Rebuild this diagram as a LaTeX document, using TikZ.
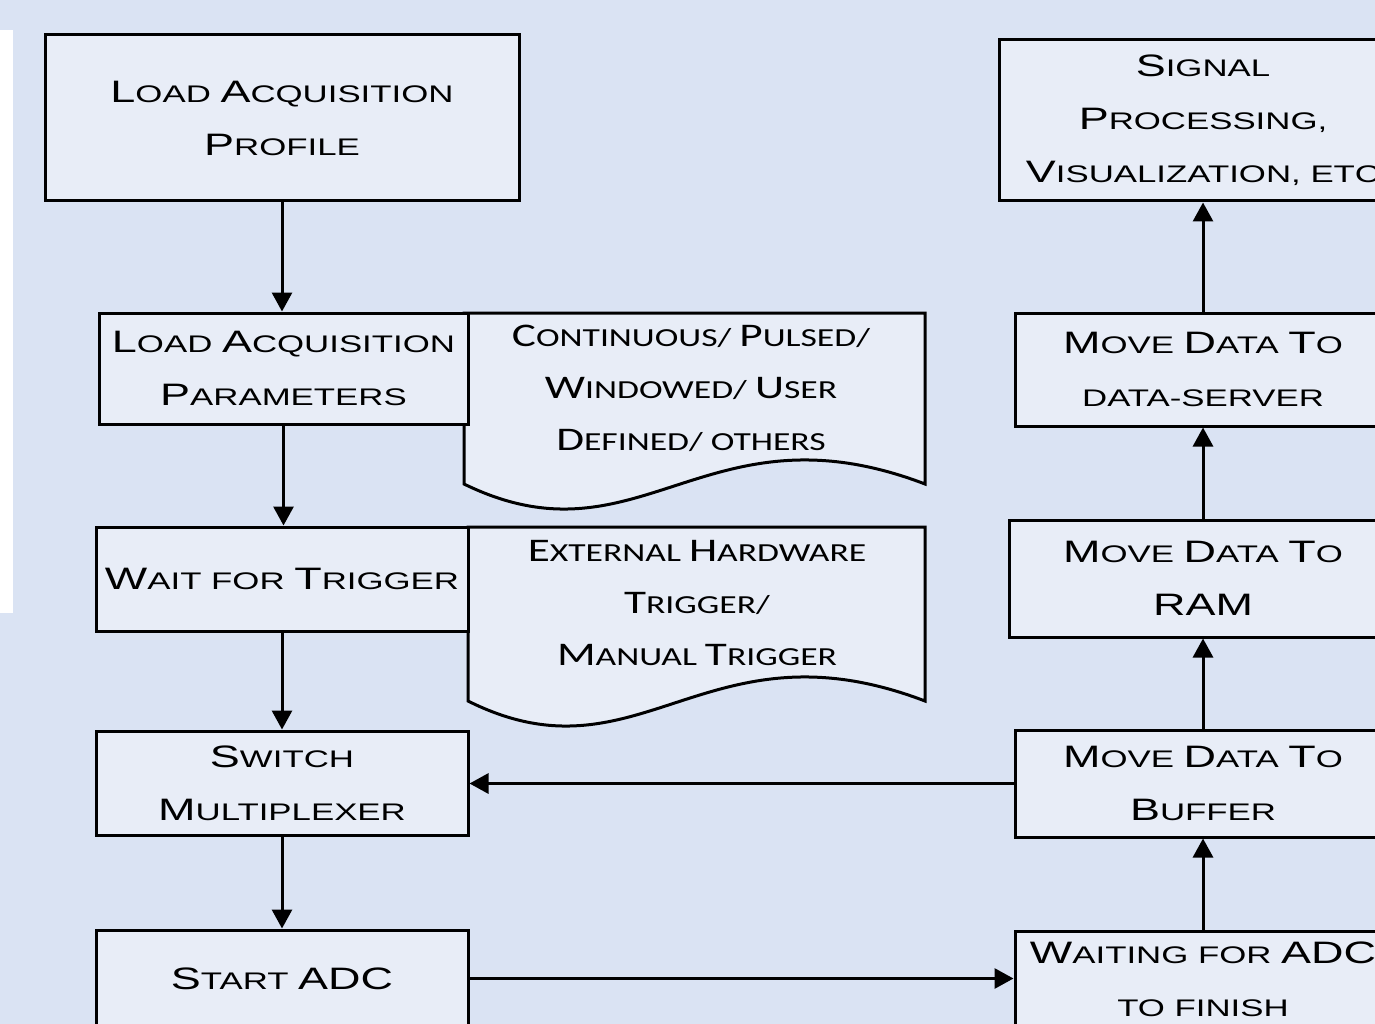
\documentclass[tikz,border=0pt]{standalone}
\usepackage{fontspec}
\setmainfont[FakeStretch=1.45]{Liberation Sans}
\newfontfamily\calfont[FakeStretch=1.37]{Carlito}
\usetikzlibrary{arrows.meta}
\definecolor{bgblue}{HTML}{DAE3F3}
\definecolor{boxfill}{HTML}{E8EDF7}
\newcommand\K[1]{{\fontsize{31}{53}\selectfont #1}}
\newcommand\KC[1]{{\fontsize{33}{52}\selectfont #1}}
\begin{document}
\begin{tikzpicture}[x=1pt,y=-1pt,
  box/.style={draw=black, fill=boxfill, line width=3pt, inner sep=0pt, align=center,
    font=\fontsize{24}{53}\selectfont, text=black},
  doctext/.style={align=center, font=\calfont\fontsize{26}{52}\selectfont, inner sep=0pt},
  flow/.style={line width=3pt, -{Triangle[length=19pt,width=20pt]}},
  docshape/.style={draw=black, fill=boxfill, line width=3pt, line join=miter}]
\useasboundingbox (0,0) rectangle (1375,1024);
\clip (0,0) rectangle (1375,1024);
\fill[bgblue] (0,0) rectangle (1375,1024);
\fill[white] (0,30) rectangle (13,613);

% documents
\draw[docshape] (464,313) -- (925,313) -- (925,484) .. controls (705,400) and (640,570) .. (464,484) -- cycle;
\node[doctext] (d1) at (691,388) {\KC{C}ONTINUOUS/ \KC{P}ULSED/\\\KC{W}INDOWED/ \KC{U}SER\\\KC{D}EFINED/ OTHERS};
\draw[docshape] (468,527) -- (925,527) -- (925,701) .. controls (705,617) and (640,787) .. (468,701) -- cycle;
\node[doctext] (d2) at (697,603) {\KC{E}XTERNAL \KC{H}ARDWARE\\\KC{T}RIGGER/\\\KC{M}ANUAL \KC{T}RIGGER};

% left column
\node[box, minimum width=474, minimum height=166] (b1) at (282,118) {\K{L}OAD \K{A}CQUISITION\\\K{P}ROFILE};
\node[box, minimum width=369, minimum height=111] (b2) at (283.5,368.5) {\K{L}OAD \K{A}CQUISITION\\\K{P}ARAMETERS};
\node[box, minimum width=372, minimum height=104] (b3) at (282,579) {\K{W}AIT FOR \K{T}RIGGER};
\node[box, minimum width=372, minimum height=104] (b4) at (282,783) {\K{S}WITCH\\\K{M}ULTIPLEXER};
\node[box, minimum width=372, minimum height=97] (b5) at (282,978.5) {\K{S}TART \K{ADC}};

% right column
\node[box, minimum width=408, minimum height=161] (r1) at (1203,120.5) {\K{S}IGNAL\\\K{P}ROCESSING,\\\K{V}ISUALIZATION, ETC};
\node[box, minimum width=376, minimum height=113] (r2) at (1203,369.5) {\K{M}OVE \K{D}ATA \K{T}O\\DATA-SERVER};
\node[box, minimum width=388, minimum height=117] (r3) at (1203,578.5) {\K{M}OVE \K{D}ATA \K{T}O\\\K{RAM}};
\node[box, minimum width=376, minimum height=107] (r4) at (1203,783.5) {\K{M}OVE \K{D}ATA \K{T}O\\\K{B}UFFER};
\node[box, minimum width=376, minimum height=95] (r5) at (1203,979) {\K{W}AITING FOR \K{ADC}\\TO FINISH};

% connectors
\draw[flow] (b1.south) -- (b1.south |- b2.north);
\draw[flow] (b2.south) -- (b2.south |- b3.north);
\draw[flow] (b3.south) -- (b3.south |- b4.north);
\draw[flow] (b4.south) -- (b4.south |- b5.north);
\draw[flow] (b5.east) -- (b5.east -| r5.west);
\draw[flow] (r5.north) -- (r5.north |- r4.south);
\draw[flow] (r4.north) -- (r4.north |- r3.south);
\draw[flow] (r3.north) -- (r3.north |- r2.south);
\draw[flow] (r2.north) -- (r2.north |- r1.south);
\draw[flow] (r4.west) -- (r4.west -| b4.east);
\end{tikzpicture}
\end{document}
